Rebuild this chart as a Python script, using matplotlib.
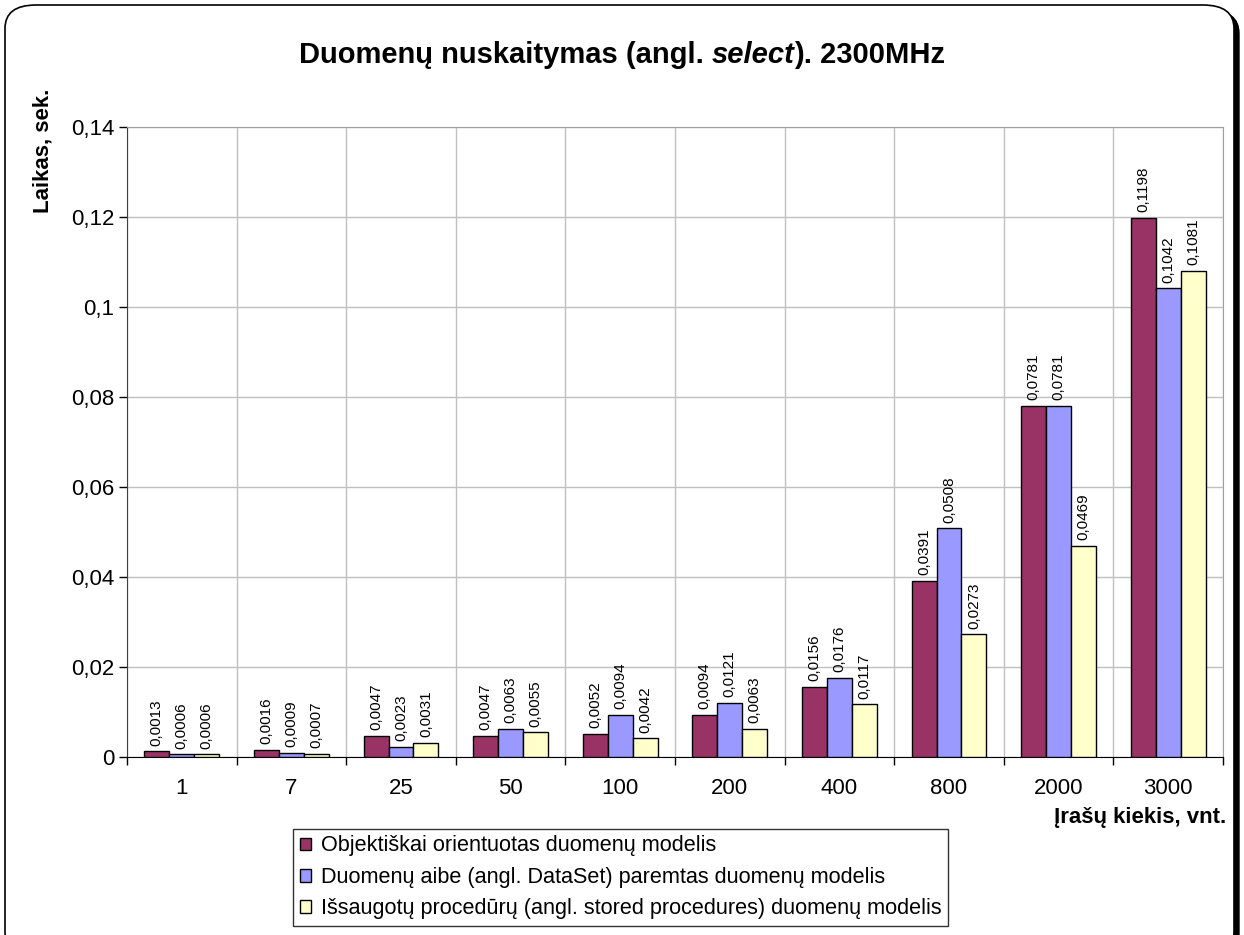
import matplotlib
matplotlib.use("Agg")
import matplotlib.pyplot as plt
import numpy as np
from matplotlib.patches import FancyBboxPatch
from matplotlib.ticker import FuncFormatter, FixedLocator

plt.rcParams['font.family'] = ['Liberation Sans', 'DejaVu Sans']

categories = ["1", "7", "25", "50", "100", "200", "400", "800", "2000", "3000"]
series_names = [
    "Objektiškai orientuotas duomenų modelis",
    "Duomenų aibe (angl. DataSet) paremtas duomenų modelis",
    "Išsaugotų procedūrų (angl. stored procedures) duomenų modelis",
]
oo_values = [0.0013, 0.0016, 0.0047, 0.0047, 0.0052, 0.0094, 0.0156, 0.0391, 0.0781, 0.1198]
ds_values = [0.0006, 0.0009, 0.0023, 0.0063, 0.0094, 0.0121, 0.0176, 0.0508, 0.0781, 0.1042]
sp_values = [0.0006, 0.0007, 0.0031, 0.0055, 0.0042, 0.0063, 0.0117, 0.0273, 0.0469, 0.1081]
yticks = [0, 0.02, 0.04, 0.06, 0.08, 0.1, 0.12, 0.14]

colors = ["#993366", "#9999FF", "#FFFFCC"]

W, H = 1244, 935
fig = plt.figure(figsize=(W / 100, H / 100), dpi=100)

# outer rounded frame with shadow (pixel coords converted to figure fraction)
def px_box(x0, ytop, x1, ybot):
    return (x0 / W, 1 - ybot / H), (x1 - x0) / W, (ybot - ytop) / H

(sx, sy), sw, sh = px_box(11, 10, 1239, 960)
shadow = FancyBboxPatch((sx, sy), sw, sh,
                        boxstyle="round,pad=0,rounding_size=0.025",
                        transform=fig.transFigure, facecolor="black",
                        edgecolor="black", lw=1, zorder=0)
fig.patches.append(shadow)
(fx, fy), fw, fh = px_box(5, 5, 1234, 955)
frame = FancyBboxPatch((fx, fy), fw, fh,
                       boxstyle="round,pad=0,rounding_size=0.025",
                       transform=fig.transFigure, facecolor="white",
                       edgecolor="black", lw=1.2, zorder=0.5)
fig.patches.append(frame)

ax = fig.add_axes([127 / W, 1 - 757 / H, (1223 - 127) / W, (757 - 127) / H])
ax.set_facecolor("none")
ax.set_zorder(2)

x = np.arange(len(categories))
bw = 0.228
all_series = [oo_values, ds_values, sp_values]
for i, (vals, c, name) in enumerate(zip(all_series, colors, series_names)):
    pos = x + (i - 1) * bw
    ax.bar(pos, vals, width=bw, color=c, edgecolor="black", linewidth=1.0,
           label=name, zorder=3)
    for px, v in zip(pos, vals):
        ax.annotate(f"{v:.4f}".replace(".", ","), (px, v), xytext=(0, 4),
                    textcoords="offset points", rotation=90, ha="center",
                    va="bottom", fontsize=11, zorder=4)

ax.set_xlim(-0.5, len(categories) - 0.5)
ax.set_ylim(0, 0.14)
ax.set_yticks(yticks)
ax.yaxis.set_major_formatter(FuncFormatter(lambda v, p: f"{v:g}".replace(".", ",")))
ax.set_xticks(x)
ax.set_xticklabels(categories)
ax.xaxis.set_minor_locator(FixedLocator(np.arange(-0.5, len(categories), 1.0)))
ax.tick_params(axis="x", which="major", length=0, labelsize=16, pad=15)
ax.tick_params(axis="x", which="minor", length=6, width=1, color="black")
ax.tick_params(axis="y", which="major", length=6, width=1, labelsize=16, pad=3)

ax.grid(True, which="major", axis="y", color="#C0C0C0", lw=1, zorder=0)
ax.grid(True, which="minor", axis="x", color="#C0C0C0", lw=1, zorder=0)
ax.set_axisbelow(True)
for s in ["top", "right"]:
    ax.spines[s].set_color("#A0A0A0")
ax.spines["left"].set_color("#404040")
ax.spines["bottom"].set_color("black")

fig.text(43 / W, 1 - 151 / H, "Laikas, sek.", rotation=90, ha="center",
         va="center", fontsize=16, fontweight="bold")
fig.text(1226 / W, 1 - 818 / H, "Įrašų kiekis, vnt.", ha="right",
         va="center", fontsize=16, fontweight="bold")

# title with italic part
parts = [("Duomenų nuskaitymas (angl. ", "normal"), ("select", "italic"),
         ("). 2300MHz", "normal")]
fig.canvas.draw()
renderer = fig.canvas.get_renderer()
texts = []
widths = []
for s, st in parts:
    t = fig.text(0, 1 - 55 / H, s, fontsize=21, fontweight="bold", style=st,
                 va="center", ha="left")
    bb = t.get_window_extent(renderer=renderer)
    texts.append(t)
    widths.append(bb.width)
total = sum(widths)
cur = 622 - total / 2
for t, w in zip(texts, widths):
    t.set_x(cur / W)
    cur += w

leg = fig.legend(loc="upper left", bbox_to_anchor=(293 / W, 1 - 829 / H),
                 bbox_transform=fig.transFigure, fontsize=15.6, frameon=True,
                 fancybox=False, edgecolor="black", handlelength=0.52,
                 handleheight=0.52, handletextpad=0.45, borderpad=0.3,
                 labelspacing=0.48, borderaxespad=0)
leg.get_frame().set_linewidth(1.0)
leg.set_zorder(5)

fig.savefig("out.png", dpi=100)
